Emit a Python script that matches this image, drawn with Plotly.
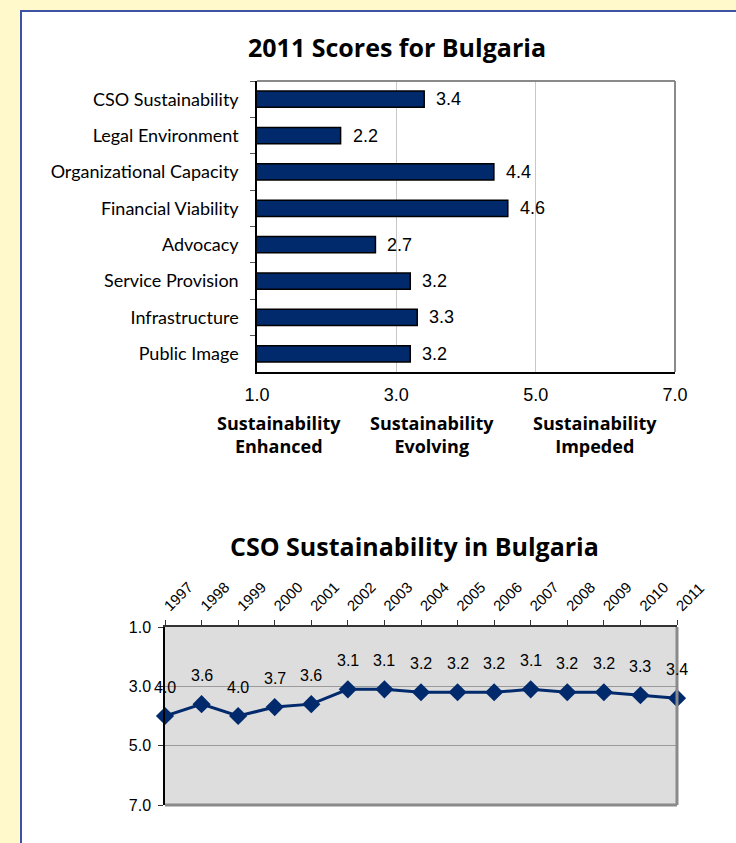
import plotly.graph_objects as go

# ---- data ----
bar_categories = ["CSO Sustainability", "Legal Environment", "Organizational Capacity",
                  "Financial Viability", "Advocacy", "Service Provision",
                  "Infrastructure", "Public Image"]
bar_scores = [3.4, 2.2, 4.4, 4.6, 2.7, 3.2, 3.3, 3.2]
bar_ticks = [1.0, 3.0, 5.0, 7.0]
zone_labels = ["Sustainability<br>Enhanced", "Sustainability<br>Evolving", "Sustainability<br>Impeded"]

years = [1997, 1998, 1999, 2000, 2001, 2002, 2003, 2004, 2005, 2006, 2007, 2008, 2009, 2010, 2011]
cso_scores = [4.0, 3.6, 4.0, 3.7, 3.6, 3.1, 3.1, 3.2, 3.2, 3.2, 3.1, 3.2, 3.2, 3.3, 3.4]
line_ticks = [1.0, 3.0, 5.0, 7.0]

W, H = 736, 843
NAVY = "#002A6C"
def px(x):
    return x / W
def py(y):
    return 1 - y / H

fig = go.Figure()

fig.add_trace(go.Bar(
    y=bar_categories, x=bar_scores, orientation="h",
    marker=dict(color=NAVY, line=dict(color="black", width=1.5)),
    width=0.45, xaxis="x", yaxis="y", showlegend=False, hoverinfo="skip"))

fig.add_trace(go.Scatter(
    x=years, y=cso_scores, mode="lines+markers",
    line=dict(color=NAVY, width=3),
    marker=dict(symbol="diamond", size=14, color=NAVY),
    cliponaxis=False, xaxis="x2", yaxis="y2", showlegend=False, hoverinfo="skip"))

annotations = []
for c, v in zip(bar_categories, bar_scores):
    annotations.append(dict(x=v, y=c, xref="x", yref="y", text=f"{v:.1f}", showarrow=False,
                            xanchor="left", xshift=10,
                            font=dict(family="Liberation Sans, Arial", size=18, color="black")))
for yr, v in zip(years, cso_scores):
    annotations.append(dict(x=yr, y=v, xref="x2", yref="y2", text=f"{v:.1f}", showarrow=False,
                            yshift=29,
                            font=dict(family="Liberation Sans, Arial", size=16, color="black")))
zone_x = [279, 432, 595]
for zx, zl in zip(zone_x, zone_labels):
    annotations.append(dict(x=px(zx), y=py(434), xref="paper", yref="paper", text=f"<b>{zl}</b>",
                            showarrow=False, xanchor="center", yanchor="middle",
                            font=dict(family="Open Sans", size=18, color="black")))
annotations.append(dict(x=px(397), y=py(47), xref="paper", yref="paper",
                        text="<b>2011 Scores for Bulgaria</b>", showarrow=False,
                        xanchor="center", yanchor="middle",
                        font=dict(family="Open Sans", size=25, color="black")))
annotations.append(dict(x=px(414), y=py(546), xref="paper", yref="paper",
                        text="<b>CSO Sustainability in Bulgaria</b>", showarrow=False,
                        xanchor="center", yanchor="middle",
                        font=dict(family="Open Sans", size=25, color="black")))

shapes = [
    # white panel with blue border
    dict(type="rect", xref="paper", yref="paper", x0=px(21), x1=1.05, y0=-0.05, y1=py(11),
         fillcolor="white", line=dict(color="#3F51A3", width=2), layer="below"),
    # bar chart frame (top/right grey)
    dict(type="line", xref="x domain", yref="y domain", x0=0, x1=1, y0=1, y1=1,
         line=dict(color="#8A8A8A", width=2)),
    dict(type="line", xref="x domain", yref="y domain", x0=1, x1=1, y0=0, y1=1,
         line=dict(color="#8A8A8A", width=2)),
    # line chart background
    dict(type="rect", xref="x2 domain", yref="y2 domain", x0=0, x1=1, y0=0, y1=1,
         fillcolor="#DDDDDD", line=dict(width=0), layer="below"),
    dict(type="line", xref="x2 domain", yref="y2 domain", x0=1, x1=1, y0=0, y1=1,
         line=dict(color="#8A8A8A", width=3)),
    dict(type="line", xref="x2 domain", yref="y2 domain", x0=0, x1=1, y0=0, y1=0,
         line=dict(color="#8A8A8A", width=3)),
]

tickfont = dict(family="Liberation Sans, Arial", size=18, color="black")

fig.update_layout(
    width=W, height=H,
    margin=dict(l=0, r=0, t=0, b=0, pad=0, autoexpand=False),
    paper_bgcolor="#FFF9CC",
    plot_bgcolor="rgba(0,0,0,0)",
    xaxis=dict(domain=[px(257), px(675)], range=[1, 7], tickvals=bar_ticks,
               ticktext=[f"{t:.1f}" for t in bar_ticks], tickfont=tickfont,
               showline=True, linecolor="black", linewidth=1.5,
               showgrid=True, gridcolor="#C8C8C8", gridwidth=1, zeroline=False,
               ticks="", ticklabelstandoff=6, automargin=False, fixedrange=True),
    yaxis=dict(domain=[py(372), py(81)], anchor="x", autorange="reversed",
               categoryorder="array", categoryarray=bar_categories,
               tickfont=dict(family="Lato", size=18, color="black"),
               showline=True, linecolor="black", linewidth=1.5,
               ticks="outside", tickson="boundaries", ticklen=5, tickcolor="#555555",
               ticklabelstandoff=13,
               showgrid=False, automargin=False, fixedrange=True),
    xaxis2=dict(domain=[px(165), px(677)], anchor="y2", side="top", range=[1997, 2011],
                tickvals=years, ticktext=[str(y) for y in years], tickangle=-45,
                tickfont=dict(family="Liberation Sans, Arial", size=15, color="black"),
                showline=True, linecolor="#333333", linewidth=1.5,
                ticks="outside", ticklen=5, tickcolor="#333333",
                showgrid=False, zeroline=False, automargin=False, fixedrange=True),
    yaxis2=dict(domain=[py(805), py(627)], anchor="x2", range=[7, 1],
                tickvals=line_ticks, ticktext=[f"{t:.1f}" for t in line_ticks],
                tickfont=dict(family="Liberation Sans, Arial", size=16, color="black"),
                showline=True, linecolor="black", linewidth=1.5,
                ticks="outside", ticklen=5, tickcolor="#333333",
                ticklabelstandoff=4,
                showgrid=True, gridcolor="#9A9A9A", gridwidth=1, zeroline=False,
                automargin=False, fixedrange=True),
    annotations=annotations,
    shapes=shapes,
)

fig.write_html("out.html", config={"displayModeBar": False},
               post_script="document.body.style.margin='0';document.body.style.overflow='hidden';")
